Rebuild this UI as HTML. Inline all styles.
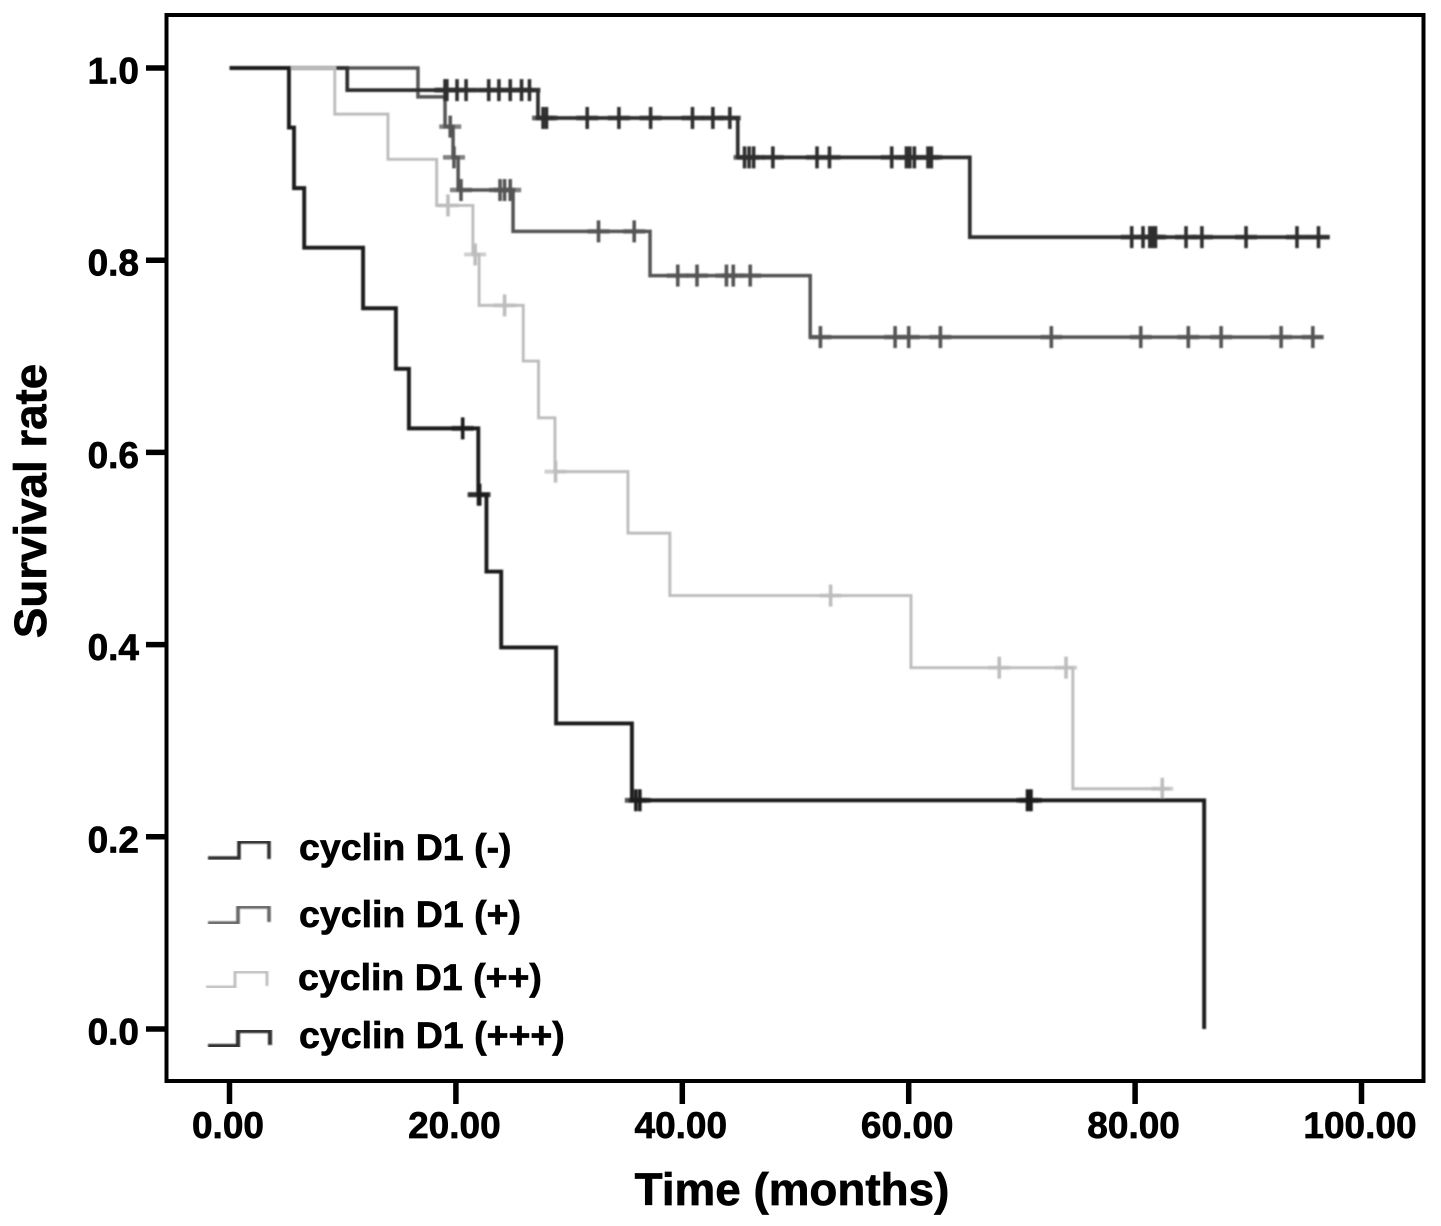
<!DOCTYPE html>
<html lang="en">
<head>
<meta charset="utf-8">
<title>Survival rate by cyclin D1 expression</title>
<style>
html,body{margin:0;padding:0;background:#fff;width:1441px;height:1226px;overflow:hidden}
svg{display:block}
text{font-family:"Liberation Sans",Arial,sans-serif;font-weight:bold;fill:#000;stroke:#000;stroke-width:0.7px}
</style>
</head>
<body>
<svg id="chart" xmlns="http://www.w3.org/2000/svg" width="1441" height="1226" viewBox="0 0 1441 1226">
  <defs>
    <filter id="soft" x="-5%" y="-5%" width="110%" height="110%"><feGaussianBlur stdDeviation="0.7"/></filter>
    <filter id="softText" x="-5%" y="-5%" width="110%" height="110%"><feGaussianBlur stdDeviation="0.35"/></filter>
  </defs>
  <rect x="166.5" y="15" width="1257" height="1066" fill="none" stroke="#000" stroke-width="4" filter="url(#softText)"/>
  <g id="axes" filter="url(#softText)"></g>
  <g id="series" filter="url(#soft)"></g>
  <text x="792" y="1205" font-size="45.8" text-anchor="middle" filter="url(#softText)">Time (months)</text>
  <text transform="translate(46 501) rotate(-90)" font-size="45.7" text-anchor="middle" filter="url(#softText)">Survival rate</text>
  <g>
    <g>
      <path d="M208 858H239V842H269V859" fill="none" stroke="#2e2e2e" stroke-width="3.6" filter="url(#soft)"/>
      <text x="299" y="860" font-size="37.5" filter="url(#softText)">cyclin D1 (-)</text>
    </g>
    <g>
      <path d="M208 923H238V907H269V922" fill="none" stroke="#666" stroke-width="3.6" filter="url(#soft)"/>
      <text x="299" y="927" font-size="37.5" filter="url(#softText)">cyclin D1 (+)</text>
    </g>
    <g>
      <path d="M206 987H235V972H267V986" fill="none" stroke="#bdbdbd" stroke-width="2.8" filter="url(#soft)"/>
      <text x="298" y="990" font-size="37.5" filter="url(#softText)">cyclin D1 (++)</text>
    </g>
    <g>
      <path d="M208 1046H238V1031H270V1045" fill="none" stroke="#333" stroke-width="4.2" filter="url(#soft)"/>
      <text x="299" y="1048" font-size="37.5" filter="url(#softText)">cyclin D1 (+++)</text>
    </g>
  </g>
</svg>
<script>
var xTickValues = [0, 20, 40, 60, 80, 100];
var xTickLabels = ["0.00", "20.00", "40.00", "60.00", "80.00", "100.00"];
var yTickValues = [0, 0.2, 0.4, 0.6, 0.8, 1.0];
var yTickLabels = ["0.0", "0.2", "0.4", "0.6", "0.8", "1.0"];

var negStepTimes = [10.4, 27.25, 44.9, 65.4];
var negStepSurvival = [0.977, 0.948, 0.907, 0.824];
var negEndTime = 97.2;
var negCensored = [19.04, 19.2, 20.1, 20.9, 22.9, 23.8, 24.8, 25.8, 26.5, 27.7, 28.0, 31.6, 34.4, 37.2, 40.9, 42.7, 44.2, 45.5, 45.9, 46.3, 48.0, 51.9, 53.0, 58.5, 59.8, 60.1, 60.5, 61.7, 62.0, 79.7, 80.7, 81.3, 81.6, 81.8, 84.5, 85.9, 89.8, 94.3, 96.2];

var plusStepTimes = [16.65, 19.04, 19.75, 20.2, 25.05, 37.15, 51.3];
var plusStepSurvival = [0.97, 0.939, 0.907, 0.873, 0.83, 0.784, 0.72];
var plusEndTime = 96.6;
var plusCensored = [19.5, 19.83, 20.45, 23.9, 24.3, 24.8, 32.6, 35.75, 39.6, 41.3, 43.9, 44.5, 46.0, 52.2, 58.8, 60.0, 62.8, 72.6, 80.5, 84.7, 87.6, 92.9, 95.7];

var doubleStepTimes = [9.3, 14.0, 18.3, 21.5, 22.05, 25.95, 27.3, 28.75, 35.2, 38.9, 60.2, 74.5];
var doubleStepSurvival = [0.952, 0.905, 0.857, 0.806, 0.753, 0.695, 0.636, 0.58, 0.516, 0.451, 0.376, 0.25];
var doubleEndTime = 83.1;
var doubleCensored = [19.3, 21.7, 24.3, 28.8, 53.1, 68.0, 73.9, 82.4];

var tripleStepTimes = [5.25, 5.7, 6.6, 11.8, 14.7, 15.85, 21.98, 22.7, 24.0, 28.85, 35.55, 86.1];
var tripleStepSurvival = [0.938, 0.875, 0.813, 0.75, 0.687, 0.625, 0.556, 0.476, 0.397, 0.318, 0.238, 0.0];
var tripleEndTime = 86.1;
var tripleCensored = [20.6, 22.0, 22.1, 35.9, 36.25, 70.5, 70.8];

var NS = "http://www.w3.org/2000/svg";
function xScale(t) { return 229.5 + 11.32 * t; }
function yScale(s) { return 1029 - 961 * s; }

function svgEl(tag, attrs, parent) {
  var el = document.createElementNS(NS, tag);
  for (var k in attrs) el.setAttribute(k, attrs[k]);
  parent.appendChild(el);
  return el;
}

var axes = document.getElementById("axes");
xTickValues.forEach(function (v, i) {
  var px = xScale(v);
  var tick = svgEl("line", { x1: px, x2: px, y1: 1081, y2: 1104, stroke: "#000", "stroke-width": 5.5 }, axes);
  
  
  var label = svgEl("text", { x: px - 1.5, y: 1138, "font-size": 37, "text-anchor": "middle" }, axes);
  
  
  label.textContent = xTickLabels[i];
});
yTickValues.forEach(function (v, i) {
  var py = yScale(v);
  var tick = svgEl("line", { x1: 146, x2: 166, y1: py, y2: py, stroke: "#000", "stroke-width": 5.5 }, axes);
  
  
  var label = svgEl("text", { x: 139, y: py + 15.5, "font-size": 37, "text-anchor": "end" }, axes);
  
  
  label.textContent = yTickLabels[i];
});

function survivalAt(t, times, surv) {
  var s = 1;
  for (var i = 0; i < times.length; i++) { if (t >= times[i]) s = surv[i]; }
  return s;
}

function drawCurve(name, times, surv, end, censored, color, width) {
  var root = document.getElementById("series");
  var g = svgEl("g", {}, root);
  
  
  var d = "M" + xScale(0) + " " + yScale(1);
  for (var i = 0; i < times.length; i++) {
    d += "H" + xScale(times[i]) + "V" + yScale(surv[i]);
  }
  d += "H" + xScale(end);
  var path = svgEl("path", { d: d, fill: "none", stroke: color, "stroke-width": width, "stroke-linejoin": "miter" }, g);
  
  
  censored.forEach(function (t) {
    var cx = xScale(t), cy = yScale(survivalAt(t, times, surv));
    var v = svgEl("line", { x1: cx, x2: cx, y1: cy - 11, y2: cy + 11, stroke: color, "stroke-width": 3.6 }, g);
    
    
    var h = svgEl("line", { x1: cx - 11, x2: cx + 11, y1: cy, y2: cy, stroke: color, "stroke-width": width + 1, "stroke-opacity": 0.75 }, g);
    
    
  });
}

drawCurve("curve-plus", plusStepTimes, plusStepSurvival, plusEndTime, plusCensored, "#555", 3.5);
drawCurve("curve-negative", negStepTimes, negStepSurvival, negEndTime, negCensored, "#2e2e2e", 3.7);
drawCurve("curve-double-plus", doubleStepTimes, doubleStepSurvival, doubleEndTime, doubleCensored, "#bdbdbd", 2.9);
drawCurve("curve-triple-plus", tripleStepTimes, tripleStepSurvival, tripleEndTime, tripleCensored, "#1c1c1c", 3.9);
</script>
</body>
</html>
